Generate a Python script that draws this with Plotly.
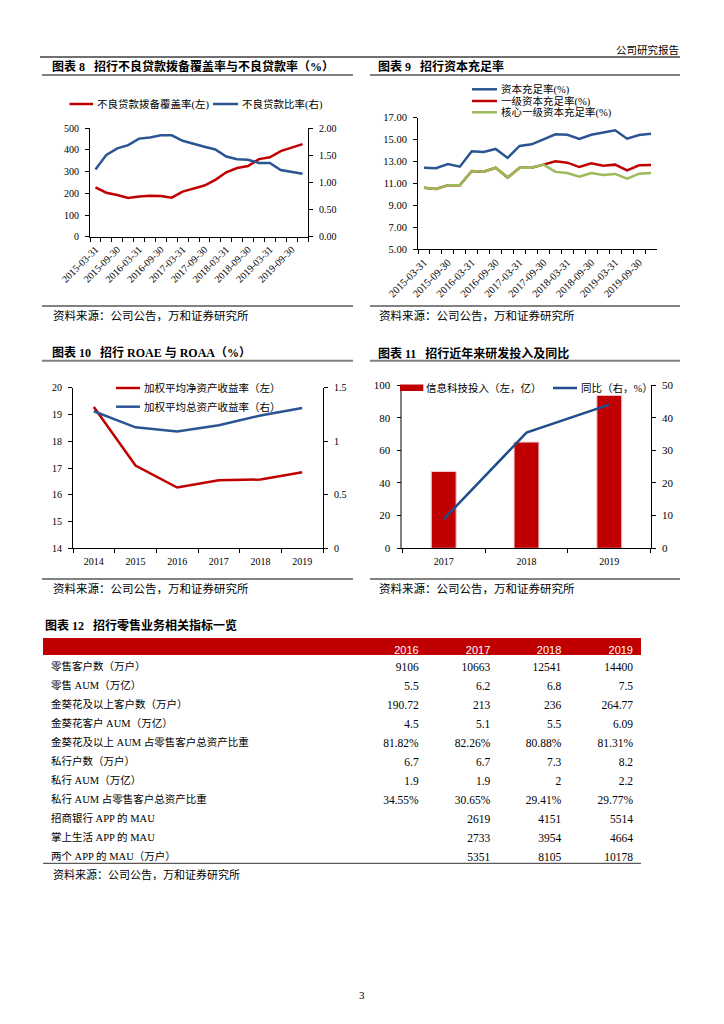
import plotly.graph_objects as go

W, H = 724, 1024


def X(p):
    return p / W


def Y(p):
    return 1 - p / H


RED = "#C00000"
BLUE = "#2A5592"
GREEN = "#9BBB59"
SERIF = "Liberation Serif, Noto Sans CJK SC"
CJK = "Liberation Serif, Noto Sans CJK SC"

# ---------------- data ----------------
quarters = [
    "2015-03-31", "2015-06-30", "2015-09-30", "2015-12-31",
    "2016-03-31", "2016-06-30", "2016-09-30", "2016-12-31",
    "2017-03-31", "2017-06-30", "2017-09-30", "2017-12-31",
    "2018-03-31", "2018-06-30", "2018-09-30", "2018-12-31",
    "2019-03-31", "2019-06-30", "2019-09-30", "2019-12-31",
]
quarter_ticktext = [
    "2015-03-31", "", "2015-09-30", "", "2016-03-31", "", "2016-09-30", "",
    "2017-03-31", "", "2017-09-30", "", "2018-03-31", "", "2018-09-30", "",
    "2019-03-31", "", "2019-09-30", "",
]
npl_coverage = [228, 203, 192, 179, 185, 189, 188, 180, 208, 223,
                236, 262, 297, 317, 326, 358, 366, 395, 411, 427]
npl_ratio = [1.24, 1.51, 1.63, 1.69, 1.81, 1.83, 1.87, 1.87, 1.77, 1.71,
             1.66, 1.61, 1.48, 1.43, 1.42, 1.36, 1.36, 1.23, 1.19, 1.16]

car = [12.44, 12.39, 12.78, 12.53, 13.94, 13.87, 14.15, 13.33, 14.42, 14.57,
       15.03, 15.48, 15.45, 15.06, 15.45, 15.68, 15.85, 15.09, 15.42, 15.54]
tier1 = [10.62, 10.50, 10.84, 10.83, 12.14, 12.08, 12.44, 11.54, 12.44, 12.44,
         12.72, 13.02, 12.90, 12.50, 12.84, 12.62, 12.72, 12.20, 12.66, 12.69]
core_tier1 = [10.62, 10.50, 10.84, 10.83, 12.14, 12.08, 12.44, 11.54, 12.44, 12.44,
              12.72, 12.06, 11.96, 11.62, 11.96, 11.78, 11.87, 11.44, 11.90, 11.95]

years10 = ["2014", "2015", "2016", "2017", "2018", "2019"]
roae = [19.28, 17.09, 16.27, 16.54, 16.57, 16.84]
roaa = [1.28, 1.13, 1.09, 1.15, 1.24, 1.31]

years11 = ["2017", "2018", "2019"]
it_invest = [47.05, 65.02, 93.61]
it_yoy = [8.9, 35.4, 44.0]

table_header = ["", "2016", "2017", "2018", "2019"]
row_labels = [
    "零售客户数（万户）", "零售 AUM（万亿）", "金葵花及以上客户数（万户）",
    "金葵花客户 AUM（万亿）", "金葵花及以上 AUM 占零售客户总资产比重",
    "私行户数（万户）", "私行 AUM（万亿）", "私行 AUM 占零售客户总资产比重",
    "招商银行 APP 的 MAU", "掌上生活 APP 的 MAU", "两个 APP 的 MAU（万户）",
]
col_2016 = ["9106", "5.5", "190.72", "4.5", "81.82%", "6.7", "1.9", "34.55%", "", "", ""]
col_2017 = ["10663", "6.2", "213", "5.1", "82.26%", "6.7", "1.9", "30.65%", "2619", "2733", "5351"]
col_2018 = ["12541", "6.8", "236", "5.5", "80.88%", "7.3", "2", "29.41%", "4151", "3954", "8105"]
col_2019 = ["14400", "7.5", "264.77", "6.09", "81.31%", "8.2", "2.2", "29.77%", "5514", "4664", "10178"]

# ---------------- figure ----------------
fig = go.Figure()

# Chart 8
fig.add_trace(go.Scatter(x=quarters, y=npl_coverage, mode="lines", name="不良贷款拨备覆盖率(左)",
                         line=dict(color=RED, width=2.5), xaxis="x", yaxis="y"))
fig.add_trace(go.Scatter(x=quarters, y=npl_ratio, mode="lines", name="不良贷款比率(右)",
                         line=dict(color=BLUE, width=2.5), xaxis="x", yaxis="y2"))

# Chart 9
fig.add_trace(go.Scatter(x=quarters, y=car, mode="lines", name="资本充足率(%)",
                         line=dict(color=BLUE, width=2.5), xaxis="x2", yaxis="y3"))
fig.add_trace(go.Scatter(x=quarters, y=tier1, mode="lines", name="一级资本充足率(%)",
                         line=dict(color=RED, width=2.5), xaxis="x2", yaxis="y3"))
fig.add_trace(go.Scatter(x=quarters, y=core_tier1, mode="lines", name="核心一级资本充足率(%)",
                         line=dict(color=GREEN, width=2.5), xaxis="x2", yaxis="y3"))

# Chart 10
fig.add_trace(go.Scatter(x=years10, y=roae, mode="lines", name="加权平均净资产收益率（左）",
                         line=dict(color=RED, width=2.5), xaxis="x3", yaxis="y4"))
fig.add_trace(go.Scatter(x=years10, y=roaa, mode="lines", name="加权平均总资产收益率（右）",
                         line=dict(color=BLUE, width=2.5), xaxis="x3", yaxis="y5"))

# Chart 11
fig.add_trace(go.Bar(x=years11, y=it_invest, name="信息科技投入（左，亿）", width=0.3,
                     marker=dict(color=RED, line=dict(color="#F0C8C8", width=1)),
                     xaxis="x4", yaxis="y6"))
fig.add_trace(go.Scatter(x=years11, y=it_yoy, mode="lines", name="同比（右，%）",
                         line=dict(color="#1F4E8C", width=2.5), xaxis="x4", yaxis="y7"))

# Table 12
fig.add_trace(go.Table(
    domain=dict(x=[X(43), X(641)], y=[Y(866), Y(638)]),
    columnwidth=[312, 71.7, 71.6, 71, 71.7],
    header=dict(values=table_header, fill_color=RED, line_color=RED, height=16,
                align=["left", "right", "right", "right", "right"],
                font=dict(family="Liberation Sans", size=11, color="white")),
    cells=dict(values=[row_labels, col_2016, col_2017, col_2018, col_2019],
               fill_color="white", line_color="white", height=19,
               align=["left", "right", "right", "right", "right"],
               font=dict(family=[CJK, SERIF, SERIF, SERIF, SERIF],
                         size=[10.5, 11.5, 11.5, 11.5, 11.5], color="#000")),
))


def ax(**kw):
    d = dict(showgrid=False, zeroline=False, showline=True, linecolor="#000", linewidth=1,
             ticks="outside", ticklen=4, tickcolor="#000", tickwidth=1, automargin=False,
             tickfont=dict(family=SERIF, size=10, color="#000"), fixedrange=True)
    d.update(kw)
    return d


def yax(**kw):
    return ax(ticklabelstandoff=4, **kw)


nq = len(quarters)
n10 = len(years10)
n11 = len(years11)

layout = dict(
    width=W, height=H, autosize=False,
    margin=dict(l=0, r=0, t=0, b=0, pad=0, autoexpand=False),
    paper_bgcolor="white", plot_bgcolor="white", showlegend=False,
    font=dict(family=SERIF, size=10, color="#000"),
    # chart 8
    xaxis=ax(domain=[X(90), X(308)], anchor="y", type="category", tickmode="array",
             tickvals=quarters, ticktext=quarter_ticktext, tickangle=-45, tickson="boundaries",
             ticklabelstandoff=2, range=[-0.5, nq - 0.5]),
    yaxis=yax(domain=[Y(236.7), Y(128.3)], anchor="x", range=[0, 500], dtick=100),
    yaxis2=yax(overlaying="y", side="right", anchor="x", range=[0, 2], dtick=0.5, tickformat=".2f"),
    # chart 9
    xaxis2=ax(domain=[X(418), X(657)], anchor="y3", type="category", tickmode="array",
              tickvals=quarters, ticktext=quarter_ticktext, tickangle=-45, tickson="boundaries",
              ticklabelstandoff=2, range=[-0.5, nq - 0.5],
              tickfont=dict(family=SERIF, size=10.5, color="#000")),
    yaxis3=yax(domain=[Y(249.3), Y(117.7)], anchor="x2", range=[5, 17], tick0=5, dtick=2,
               tickformat=".2f", tickfont=dict(family=SERIF, size=10.5, color="#000")),
    # chart 10
    xaxis3=ax(domain=[X(73), X(323)], anchor="y4", type="category", tickson="boundaries",
              ticklabelstandoff=4, range=[-0.5, n10 - 0.5]),
    yaxis4=yax(domain=[Y(548.3), Y(387.7)], anchor="x3", range=[14, 20], dtick=1),
    yaxis5=yax(overlaying="y4", side="right", anchor="x3", range=[0, 1.5], dtick=0.5),
    # chart 11
    xaxis4=ax(domain=[X(402.3), X(650.7)], anchor="y6", type="category", tickson="boundaries",
              ticklabelstandoff=4, range=[-0.5, n11 - 0.5]),
    yaxis6=yax(domain=[Y(548.3), Y(385)], anchor="x4", range=[0, 100], dtick=20,
               linecolor="#808080", linewidth=1.5, tickfont=dict(family=SERIF, size=11, color="#000")),
    yaxis7=yax(overlaying="y6", side="right", anchor="x4", range=[0, 50], dtick=10,
               tickfont=dict(family=SERIF, size=11, color="#000")),
)
fig.update_layout(**layout)

shapes = []
annotations = []


def hline(x0, x1, y, color, width):
    shapes.append(dict(type="line", xref="paper", yref="paper", x0=X(x0), x1=X(x1),
                       y0=Y(y), y1=Y(y), line=dict(color=color, width=width)))


def text(x, y, s, size=10.5, family=CJK, color="#000", anchor="left"):
    annotations.append(dict(xref="paper", yref="paper", x=X(x), y=Y(y), text=s, showarrow=False,
                            xanchor=anchor, yanchor="middle", borderpad=0,
                            font=dict(family=family, size=size, color=color)))


def legend_line(x0, x1, y, color, label):
    shapes.append(dict(type="line", xref="paper", yref="paper", x0=X(x0), x1=X(x1),
                       y0=Y(y), y1=Y(y), line=dict(color=color, width=2.5)))
    text(x1 + 3, y, label, size=10.5)


# page header
text(680, 50, "公司研究报告", size=10.5, anchor="right")
hline(40, 680, 57, "#404040", 1.3)

NB = "\u00a0"
# titles
text(51, 66.7, "<b>图表 8" + NB * 3 + "招行不良贷款拨备覆盖率与不良贷款率（%）</b>", size=12)
text(377, 66.7, "<b>图表 9" + NB * 3 + "招行资本充足率</b>", size=12)
text(51, 352.3, "<b>图表 10" + NB * 3 + "招行 ROAE 与 ROAA（%）</b>", size=12)
text(377, 353, "<b>图表 11" + NB * 3 + "招行近年来研发投入及同比</b>", size=12)
text(44, 625, "<b>图表 12" + NB * 3 + "招行零售业务相关指标一览</b>", size=12)
hline(42, 353, 75, "#808080", 2)
hline(370, 680, 75, "#808080", 2)
hline(42, 353, 360.7, "#808080", 2)
hline(370, 680, 360.7, "#808080", 2)

# source lines
SRC = "资料来源：公司公告，万和证券研究所"
hline(42, 353, 306, "#595959", 1.3)
hline(370, 680, 306, "#595959", 1.3)
hline(42, 353, 579, "#595959", 1.3)
hline(370, 680, 579, "#595959", 1.3)
hline(43, 641, 863.3, "#595959", 1.3)
text(52, 315, SRC, size=11.5)
text(378, 315, SRC, size=11.5)
text(52, 588.3, SRC, size=11.5)
text(378, 588.3, SRC, size=11.5)
text(52, 874.3, SRC, size=11)

# legends
legend_line(69.5, 93, 104, RED, "不良贷款拨备覆盖率(左)")
legend_line(213, 238, 104, BLUE, "不良贷款比率(右)")
legend_line(472, 497, 89.3, BLUE, "资本充足率(%)")
legend_line(472, 497, 101, RED, "一级资本充足率(%)")
legend_line(472, 497, 112.3, GREEN, "核心一级资本充足率(%)")
legend_line(116, 140, 388, RED, "加权平均净资产收益率（左）")
legend_line(116, 140, 406.7, BLUE, "加权平均总资产收益率（右）")
shapes.append(dict(type="rect", xref="paper", yref="paper", x0=X(400), x1=X(423.3),
                   y0=Y(391), y1=Y(384.5), fillcolor=RED, line=dict(width=0)))
text(425.5, 388.3, "信息科技投入（左，亿）", size=10.5)
legend_line(553, 577, 388, "#1F4E8C", "同比（右，%）")

# page number
text(362, 995, "3", size=11, family=SERIF, anchor="center")

fig.update_layout(shapes=shapes, annotations=annotations)

fig.write_html("out.html", config={"displayModeBar": False},
               post_script="document.body.style.margin='0';")
